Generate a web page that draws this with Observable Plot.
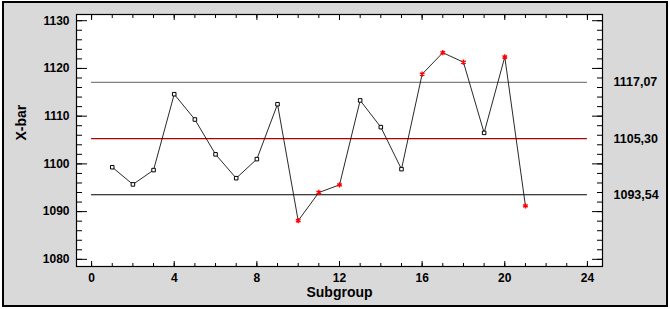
<!DOCTYPE html>
<html><head><meta charset="utf-8">
<script src="https://cdn.jsdelivr.net/npm/d3@7"></script>
<script src="https://cdn.jsdelivr.net/npm/@observablehq/plot@0.6"></script>
<style>
body{margin:0;background:#fff;}
#wrap{position:relative;width:670px;height:309px;overflow:hidden;}
#bg{position:absolute;left:2px;top:1px;width:662px;height:302px;background:#d9d9d9;border:2px solid #000;}
#chart{position:absolute;left:0;top:0;}
</style></head><body>
<div id="wrap"><div id="bg"></div><div id="chart"></div></div>
<script>
const subgroups = [1,2,3,4,5,6,7,8,9,10,11,12,13,14,15,16,17,18,19,20,21];
const xbar = [1099.3,1095.7,1098.7,1114.6,1109.3,1102.0,1097.0,1101.0,1112.5,1088.1,1094.0,1095.6,1113.3,1107.7,1098.9,1118.8,1123.3,1121.3,1106.5,1122.4,1091.2];
const flagged = [10,11,12,16,17,18,20,21];
const limitValues = [1117.07, 1105.30, 1093.54];
const limitLabels = ["1117,07", "1105,30", "1093,54"];
const limitColors = ["#808080", "#b00000", "#000000"];
const xTicks = [0,4,8,12,16,20,24];
const xMinorTicks = d3.range(0, 25, 1);
const yTicks = [1080,1090,1100,1110,1120,1130];
const yMinorTicks = d3.range(1080, 1131, 2);

const data = subgroups.map((s,i) => ({s, v: xbar[i], flag: flagged.includes(s)}));
const limits = limitValues.map((v,i) => ({v, label: limitLabels[i], color: limitColors[i]}));

const font = "'Liberation Sans', Arial, sans-serif";
const chart = Plot.plot({
  width: 670, height: 309,
  marginTop: 14, marginLeft: 76, marginRight: 68, marginBottom: 43,
  style: {background: "transparent", fontFamily: font},
  x: {domain: [-0.73, 24.73]},
  y: {domain: [1078.5, 1131.3]},
  marks: [
    Plot.frame({fill: "white", stroke: "none"}),
    Plot.ruleY(limits, {y: "v", x1: xTicks[0], x2: xTicks[xTicks.length-1], stroke: "color", strokeWidth: 1.1}),
    Plot.line(data, {x: "s", y: "v", stroke: "#111", strokeWidth: 0.9}),
    Plot.dot(data.filter(d => !d.flag), {x: "s", y: "v", symbol: "square", r: 2, stroke: "#000", fill: "white", strokeWidth: 1}),
    Plot.dot(data.filter(d => d.flag), {x: "s", y: "v", symbol: "asterisk", r: 2.5, stroke: "#ff0000", strokeWidth: 1.4}),
    // x axes
    Plot.axisX({anchor: "bottom", ticks: xTicks, tickFormat: "d", tickSize: 0, tickPadding: 7, fontWeight: "bold", fontSize: 12, label: null}),
    Plot.axisX({anchor: "bottom", ticks: xMinorTicks, tickSize: -3, fill: "none", label: null}),
    Plot.axisX({anchor: "bottom", ticks: xTicks, tickSize: -5, fill: "none", label: null}),
    Plot.axisX({anchor: "top", ticks: xMinorTicks, tickSize: -3, fill: "none", label: null}),
    Plot.axisX({anchor: "top", ticks: xTicks, tickSize: -5, fill: "none", label: null}),
    // y axes
    Plot.axisY({anchor: "left", ticks: yTicks, tickFormat: "d", tickSize: 0, tickPadding: 7, fontWeight: "bold", fontSize: 12, label: null}),
    Plot.axisY({anchor: "left", ticks: yMinorTicks, tickSize: -6, fill: "none", label: null}),
    Plot.axisY({anchor: "left", ticks: yTicks, tickSize: -11, fill: "none", label: null}),
    Plot.axisY({anchor: "right", ticks: yMinorTicks, tickSize: -6, fill: "none", label: null}),
    Plot.axisY({anchor: "right", ticks: yTicks, tickSize: -11, fill: "none", label: null}),
    Plot.frame({stroke: "#000", strokeWidth: 1.2}),
    Plot.text(limits, {y: "v", text: "label", frameAnchor: "right", dx: 11, textAnchor: "start", fontWeight: "bold", fontSize: 12.5, fill: "#000"}),
    Plot.text(["X-bar"], {frameAnchor: "left", dx: -55, rotate: -90, fontWeight: "bold", fontSize: 14}),
    Plot.text(["Subgroup"], {frameAnchor: "bottom", dy: 30, fontWeight: "bold", fontSize: 14})
  ]
});
document.getElementById("chart").appendChild(chart);
</script>
</body></html>
